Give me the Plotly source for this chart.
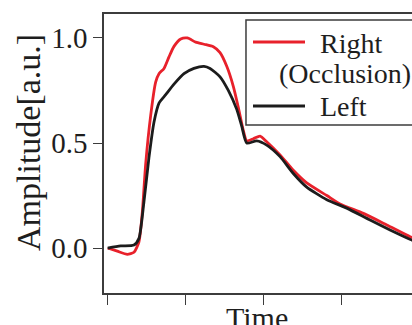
import plotly.graph_objects as go

# Data
t_right = [0.0, 0.123, 0.251, 0.337, 0.401, 0.444, 0.487, 0.551, 0.615, 0.658, 0.722, 0.786, 0.850,
           0.936, 1.021, 1.128, 1.235, 1.354, 1.440, 1.526, 1.610, 1.674, 1.738, 1.782, 1.867, 1.953,
           2.038, 2.209, 2.379, 2.551, 2.808, 2.978, 3.277, 3.577, 3.876, 3.94]
y_right = [0.0, -0.015, -0.03, -0.02, 0.03, 0.17, 0.40, 0.63, 0.79, 0.83, 0.855, 0.91, 0.96,
           0.995, 1.0, 0.98, 0.97, 0.958, 0.93, 0.865, 0.77, 0.67, 0.56, 0.51, 0.52, 0.533,
           0.506, 0.443, 0.37, 0.31, 0.25, 0.21, 0.165, 0.11, 0.054, 0.045]

t_left = [0.0, 0.167, 0.337, 0.401, 0.465, 0.529, 0.594, 0.658, 0.744, 0.850, 0.978, 1.106, 1.235,
          1.312, 1.440, 1.546, 1.654, 1.718, 1.782, 1.910, 2.038, 2.209, 2.379, 2.551, 2.808,
          3.064, 3.363, 3.619, 3.897, 3.94]
y_left = [0.0, 0.01, 0.014, 0.046, 0.22, 0.43, 0.60, 0.69, 0.73, 0.78, 0.83, 0.855, 0.865,
          0.855, 0.815, 0.75, 0.66, 0.58, 0.50, 0.51, 0.49, 0.435, 0.355, 0.29, 0.23,
          0.19, 0.133, 0.086, 0.038, 0.032]

y_ticks = [0.0, 0.5, 1.0]
y_ticklabels = ["0.0", "0.5", "1.0"]
x_ticks = [0, 1, 2, 3]

RED = "#E8212B"
BLACK = "#1c1c1c"
AXC = "#3c3c3c"
TXT = "#1e1e1e"
FONT = "Liberation Serif"

fig = go.Figure()
fig.add_trace(go.Scatter(x=t_right, y=y_right, mode="lines",
                         line=dict(color=RED, width=2.8, shape="spline", smoothing=0.6),
                         showlegend=False))
fig.add_trace(go.Scatter(x=t_left, y=y_left, mode="lines",
                         line=dict(color=BLACK, width=2.8, shape="spline", smoothing=0.6),
                         showlegend=False))

fig.update_layout(
    width=412, height=325,
    margin=dict(l=104, r=0, t=14, b=32),
    plot_bgcolor="white", paper_bgcolor="white",
    font=dict(family=FONT, size=28, color=TXT),
    showlegend=False,
)
fig.update_xaxes(range=[-0.047, 3.90], showgrid=False, zeroline=False,
                 showline=True, linecolor=AXC, linewidth=1.5, mirror=True,
                 ticks="outside", ticklen=10, tickwidth=1.2, tickcolor=AXC,
                 tickvals=x_ticks, showticklabels=False)
fig.update_yaxes(range=[-0.214, 1.114], showgrid=False, zeroline=False,
                 showline=True, linecolor=AXC, linewidth=1.5, mirror=False,
                 ticks="outside", ticklen=9, tickwidth=1.2, tickcolor=AXC,
                 tickvals=y_ticks, ticktext=y_ticklabels,
                 tickfont=dict(family=FONT, size=29, color=TXT))

# Axis titles
fig.add_annotation(text="Amplitude[a.u.]", xref="paper", yref="paper",
                   x=-0.247, y=0.541, xanchor="center", yanchor="middle",
                   textangle=-90, showarrow=False,
                   font=dict(family=FONT, size=34, color=TXT))
fig.add_annotation(text="Time", xref="paper", yref="paper",
                   x=0.497, y=0, xanchor="center", yanchor="top", yshift=-6,
                   showarrow=False, font=dict(family=FONT, size=30, color=TXT))

# Manual legend
fig.add_shape(type="rect", xref="paper", yref="paper", x0=0.461, x1=1.03, y0=0.602, y1=0.9785,
              line=dict(color=AXC, width=1.5), fillcolor="white", layer="above")
fig.add_shape(type="line", xref="paper", yref="paper", x0=0.4838, x1=0.6526, y0=0.8996, y1=0.8996,
              line=dict(color=RED, width=2.8), layer="above")
fig.add_shape(type="line", xref="paper", yref="paper", x0=0.4838, x1=0.6526, y0=0.6703, y1=0.6703,
              line=dict(color=BLACK, width=2.8), layer="above")
fig.add_annotation(text="Right", xref="paper", yref="paper", x=0.6948, y=0.896,
                   xanchor="left", yanchor="middle", showarrow=False,
                   font=dict(family=FONT, size=28, color=TXT))
fig.add_annotation(text="(Occlusion)", xref="paper", yref="paper", x=0.5617, y=0.785,
                   xanchor="left", yanchor="middle", showarrow=False,
                   font=dict(family=FONT, size=28, color=TXT))
fig.add_annotation(text="Left", xref="paper", yref="paper", x=0.6948, y=0.670,
                   xanchor="left", yanchor="middle", showarrow=False,
                   font=dict(family=FONT, size=28, color=TXT))

fig.write_html("out.html")
